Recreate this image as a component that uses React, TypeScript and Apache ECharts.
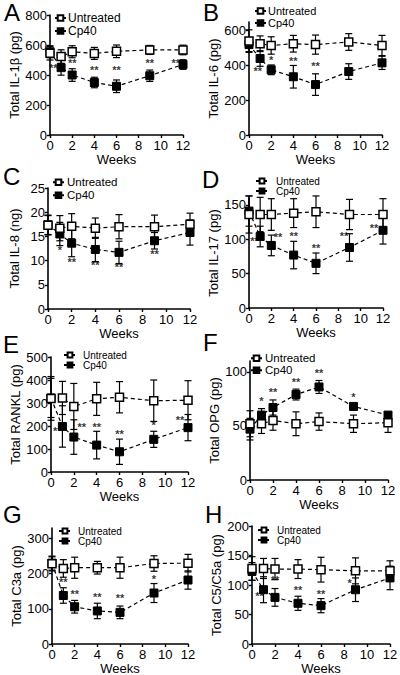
import React, { useEffect, useRef } from 'react';
import * as echarts from 'echarts';

// ---------- data ----------
const weeks = [0, 1, 2, 4, 6, 9, 12];
const xTicks = [0, 2, 4, 6, 8, 10, 12];

// A: IL-1β
const aUntreated = [545, 523, 555, 544, 558, 567, 567];
const aUntreatedSem = [45, 45, 40, 40, 42, 30, 32];
const aCp40 = [555, 449, 400, 350, 325, 395, 470];
const aCp40Sem = [40, 50, 42, 35, 42, 38, 32];
const aTicks = [0, 200, 400, 600, 800];
const aStarX = [0.3, 2, 4, 6, 9, 11.35];
const aStarY = [444, 482, 433, 433, 478, 482];
const aStarText = ['**', '**', '**', '**', '**', '**'];

// B: IL-6
const bUntreated = [540, 525, 515, 525, 520, 535, 515];
const bUntreatedSem = [65, 45, 50, 48, 55, 48, 58];
const bCp40 = [520, 440, 375, 335, 290, 365, 415];
const bCp40Sem = [40, 45, 28, 65, 62, 45, 38];
const bTicks = [0, 200, 400, 600];
const bStarX = [0.8, 2, 4, 6];
const bStarY = [368, 430, 426, 397];
const bStarText = ['**', '*', '**', '**'];

// C: IL-8
const cUntreated = [17.3, 16.7, 17.1, 16.7, 17.0, 17.0, 17.5];
const cUntreatedSem = [2.0, 2.6, 2.6, 2.1, 2.5, 2.4, 2.3];
const cCp40 = [17.4, 15.5, 13.6, 12.3, 11.7, 14.1, 15.8];
const cCp40Sem = [2.0, 2.4, 2.8, 2.5, 2.3, 1.7, 2.6];
const cTicks = [0, 5, 10, 15, 20, 25];
const cStarX = [1, 2, 4, 6, 9];
const cStarY = [12.2, 9.8, 9.1, 8.6, 11.3];
const cStarText = ['*', '**', '**', '**', '**'];

// D: IL-17
const dUntreated = [136, 136, 136, 138, 140, 136, 136];
const dUntreatedSem = [27, 25, 23, 21, 23, 22, 23];
const dCp40 = [141, 104, 91, 77, 65, 88, 113];
const dCp40Sem = [22, 15, 15, 20, 15, 20, 20];
const dTicks = [0, 50, 100, 150];
const dStarX = [0.5, 2.6, 4, 6, 8.5, 11.2];
const dStarY = [98, 103, 105, 87, 105, 117];
const dStarText = ['**', '**', '**', '**', '**', '**'];

// E: RANKL
const eUntreated = [320, 322, 285, 318, 325, 310, 312];
const eUntreatedSem = [95, 72, 100, 72, 68, 90, 85];
const eCp40 = [322, 198, 152, 117, 88, 142, 193];
const eCp40Sem = [85, 90, 75, 60, 55, 35, 57];
const eTicks = [0, 100, 200, 300, 400, 500];
const eStarX = [0.55, 2.7, 4, 6, 9, 11.3];
const eStarY = [178, 196, 196, 164, 203, 225];
const eStarText = ['**', '**', '**', '**', '*', '**'];

// F: OPG
const fUntreated = [52, 52, 55, 52, 54, 52, 53];
const fUntreatedSem = [12, 9, 9, 11, 8, 8, 9];
const fCp40 = [47, 60, 67, 79, 86, 68, 60];
const fCp40Sem = [10, 6, 7, 5, 6, 3, 2];
const fTicks = [0, 50, 100];
const fStarX = [1, 2, 4, 6, 9];
const fStarY = [73, 81, 91, 99, 77];
const fStarText = ['*', '**', '**', '**', '*'];

// G: C3a
const gUntreated = [228, 215, 217, 217, 217, 229, 230];
const gUntreatedSem = [20, 25, 30, 18, 30, 22, 25];
const gCp40 = [230, 138, 106, 94, 90, 145, 182];
const gCp40Sem = [20, 22, 18, 22, 18, 27, 26];
const gTicks = [0, 100, 200, 300];
const gStarX = [1, 2, 4, 6, 9];
const gStarY = [176, 142, 134, 131, 186];
const gStarText = ['**', '**', '**', '**', '*'];

// H: C5/C5a
const hUntreated = [128, 128, 127, 127, 126, 124, 124];
const hUntreatedSem = [20, 17, 18, 16, 21, 22, 17];
const hCp40 = [123, 92, 79, 69, 65, 92, 112];
const hCp40Sem = [15, 22, 15, 12, 12, 20, 20];
const hTicks = [0, 50, 100, 150, 200];
const hStarX = [0.66, 2, 4, 6, 8.5];
const hStarY = [81, 109, 91, 85, 103];
const hStarText = ['**', '**', '**', '**', '*'];

const seriesNames = ['Untreated', 'Cp40'];

// ---------- panel configuration (layout kept apart from data) ----------
const FONT = 'Arial, "Liberation Sans", Helvetica, sans-serif';

const panels = [
  { letter: 'A', name: 'Total IL-1β (pg)', u: aUntreated, ue: aUntreatedSem, c: aCp40, ce: aCp40Sem, ticks: aTicks, max: 800, sx: aStarX, sy: aStarY, st: aStarText,
    grid: { left: 50, top: 15, width: 133, height: 120 }, letterPos: [4, 0], legendLeft: 54, legendRows: [18, 31], legendFont: 12, legendPad: -3, legendIcon: [11, 7] },
  { letter: 'B', name: 'Total IL-6 (pg)', u: bUntreated, ue: bUntreatedSem, c: bCp40, ce: bCp40Sem, ticks: bTicks, max: 650, sx: bStarX, sy: bStarY, st: bStarText,
    grid: { left: 249, top: 22, width: 133, height: 113 }, letterPos: [203, 0], legendLeft: 254, legendRows: [11, 23], legendFont: 11, legendPad: -3, legendIcon: [11, 7] },
  { letter: 'C', name: 'Total IL-8 (ng)', u: cUntreated, ue: cUntreatedSem, c: cCp40, ce: cCp40Sem, ticks: cTicks, max: 25, sx: cStarX, sy: cStarY, st: cStarText,
    grid: { left: 48, top: 188, width: 142, height: 121 }, letterPos: [3, 164], legendLeft: 52, legendRows: [182, 195], legendFont: 11.5, legendPad: -2, legendIcon: [11, 7] },
  { letter: 'D', name: 'Total IL-17 (pg)', u: dUntreated, ue: dUntreatedSem, c: dCp40, ce: dCp40Sem, ticks: dTicks, max: 160, sx: dStarX, sy: dStarY, st: dStarText,
    grid: { left: 249, top: 198, width: 134, height: 110 }, letterPos: [202, 167], legendLeft: 255, legendRows: [181, 191], legendFont: 10, legendPad: 3, legendIcon: [12, 6] },
  { letter: 'E', name: 'Total RANKL (pg)', u: eUntreated, ue: eUntreatedSem, c: eCp40, ce: eCp40Sem, ticks: eTicks, max: 500, sx: eStarX, sy: eStarY, st: eStarText,
    grid: { left: 51, top: 357, width: 137, height: 115 }, letterPos: [3, 332], legendLeft: 63, legendRows: [355, 365], legendFont: 10, legendPad: 2, legendIcon: [12, 6] },
  { letter: 'F', name: 'Total OPG (pg)', u: fUntreated, ue: fUntreatedSem, c: fCp40, ce: fCp40Sem, ticks: fTicks, max: 110, sx: fStarX, sy: fStarY, st: fStarText,
    grid: { left: 250, top: 361, width: 138, height: 119 }, letterPos: [203, 330], legendLeft: 250, legendRows: [358, 370], legendFont: 11.5, legendPad: -2, legendIcon: [11, 7] },
  { letter: 'G', name: 'Total C3a (pg)', u: gUntreated, ue: gUntreatedSem, c: gCp40, ce: gCp40Sem, ticks: gTicks, max: 330, sx: gStarX, sy: gStarY, st: gStarText,
    grid: { left: 52, top: 528, width: 136, height: 116 }, letterPos: [3, 502], legendLeft: 58, legendRows: [531, 541], legendFont: 10, legendPad: 2, legendIcon: [12, 6] },
  { letter: 'H', name: 'Total C5/C5a (pg)', u: hUntreated, ue: hUntreatedSem, c: hCp40, ce: hCp40Sem, ticks: hTicks, max: 200, sx: hStarX, sy: hStarY, st: hStarText,
    grid: { left: 252, top: 526, width: 138, height: 118 }, letterPos: [205, 502], legendLeft: 257, legendRows: [530, 540], legendFont: 10, legendPad: 2, legendIcon: [12, 6] },
];

function errorBarSeries(idx: number, mean: number[], sem: number[]) {
  return {
    type: 'custom',
    xAxisIndex: idx,
    yAxisIndex: idx,
    z: 1,
    silent: true,
    itemStyle: { color: '#000' },
    data: weeks.map((w, i) => [w, mean[i] - sem[i], mean[i] + sem[i]]),
    encode: { x: 0, y: [1, 2] },
    renderItem: (params: any, api: any) => {
      const x = api.value(0);
      const top = api.coord([x, api.value(2)]);
      const bot = api.coord([x, api.value(1)]);
      const hw = 3.5;
      const style = { stroke: '#000', lineWidth: 1.2 };
      return {
        type: 'group',
        children: [
          { type: 'line', shape: { x1: top[0], y1: top[1], x2: bot[0], y2: bot[1] }, style },
          { type: 'line', shape: { x1: top[0] - hw, y1: top[1], x2: top[0] + hw, y2: top[1] }, style },
          { type: 'line', shape: { x1: bot[0] - hw, y1: bot[1], x2: bot[0] + hw, y2: bot[1] }, style },
        ],
      };
    },
  };
}

function starSeries(idx: number, xs: number[], ys: number[], texts: string[]) {
  return {
    type: 'scatter',
    xAxisIndex: idx,
    yAxisIndex: idx,
    z: 5,
    silent: true,
    symbol: 'circle',
    symbolSize: 1,
    itemStyle: { color: 'rgba(0,0,0,0)' },
    data: xs.map((x, i) => [x, ys[i]]),
    label: {
      show: true,
      position: 'inside',
      color: '#000',
      fontFamily: FONT,
      fontSize: 11,
      fontWeight: 'bold',
      formatter: (p: any) => texts[p.dataIndex],
    },
  };
}

function buildOption() {
  const grid: any[] = [];
  const xAxis: any[] = [];
  const yAxis: any[] = [];
  const series: any[] = [];
  const legend: any[] = [];
  const graphic: any[] = [];

  panels.forEach((p, i) => {
    grid.push({ ...p.grid, containLabel: false, outerBoundsMode: 'none' });
    xAxis.push({
      type: 'value',
      gridIndex: i,
      min: 0,
      max: 12,
      interval: 2,
      name: 'Weeks',
      nameLocation: 'middle',
      nameGap: 16,
      nameTextStyle: { fontFamily: FONT, fontSize: 13, color: '#000', verticalAlign: 'top' },
      axisLine: { show: true, onZero: false, lineStyle: { color: '#000', width: 1.6 } },
      axisTick: { show: true, length: 3, lineStyle: { color: '#000', width: 1.4 }, customValues: xTicks },
      axisLabel: { fontFamily: FONT, fontSize: 13, color: '#000', margin: 4, customValues: xTicks },
      splitLine: { show: false },
    });
    yAxis.push({
      type: 'value',
      gridIndex: i,
      min: 0,
      max: p.max,
      name: p.name,
      nameLocation: 'middle',
      nameGap: 27,
      nameTextStyle: { fontFamily: FONT, fontSize: 13, color: '#000' },
      axisLine: { show: true, onZero: false, lineStyle: { color: '#000', width: 1.6 } },
      axisTick: { show: true, length: 3, lineStyle: { color: '#000', width: 1.4 }, customValues: p.ticks },
      axisLabel: { fontFamily: FONT, fontSize: 13, color: '#000', margin: 3, customValues: p.ticks },
      splitLine: { show: false },
    });

    series.push(errorBarSeries(i, p.u, p.ue));
    series.push(errorBarSeries(i, p.c, p.ce));
    series.push({
      type: 'line',
      name: seriesNames[1],
      xAxisIndex: i,
      yAxisIndex: i,
      z: 3,
      data: weeks.map((w, k) => [w, p.c[k]]),
      symbol: 'rect',
      symbolSize: 8,
      lineStyle: { color: '#000', width: 1.2, type: [4, 3] },
      itemStyle: { color: '#000', borderColor: '#000', borderWidth: 1 },
    });
    series.push({
      type: 'line',
      name: seriesNames[0],
      xAxisIndex: i,
      yAxisIndex: i,
      z: 4,
      data: weeks.map((w, k) => [w, p.u[k]]),
      symbol: 'rect',
      symbolSize: 8,
      lineStyle: { color: '#000', width: 1.2, type: [4, 3] },
      itemStyle: { color: '#fff', borderColor: '#000', borderWidth: 1.5 },
    });
    series.push(starSeries(i, p.sx, p.sy, p.st));

    seriesNames.forEach((nm, r) => {
      legend.push({
        data: [nm],
        left: p.legendLeft,
        top: p.legendRows[r] - p.legendFont / 2,
        orient: 'vertical',
        padding: 0,
        itemWidth: p.legendIcon[0],
        itemHeight: p.legendIcon[1],
        itemGap: 0,
        selectedMode: false,
        textStyle: { fontFamily: FONT, fontSize: p.legendFont, lineHeight: p.legendFont, color: '#000', padding: [0, 0, 0, p.legendPad] },
      });
    });

    graphic.push({
      type: 'text',
      left: p.letterPos[0],
      top: p.letterPos[1],
      style: { text: p.letter, font: `24px ${FONT}`, fill: '#000' },
    });
  });

  return {
    animation: false,
    backgroundColor: '#fff',
    grid,
    xAxis,
    yAxis,
    series,
    legend,
    graphic,
  };
}

export default function App() {
  const ref = useRef<HTMLDivElement>(null);
  useEffect(() => {
    document.body.style.margin = '0';
    if (!ref.current) return;
    const chart = echarts.init(ref.current, undefined, { renderer: 'svg' });
    chart.setOption(buildOption() as any);
    return () => chart.dispose();
  }, []);
  return <div ref={ref} style={{ width: 400, height: 675 }} />;
}
